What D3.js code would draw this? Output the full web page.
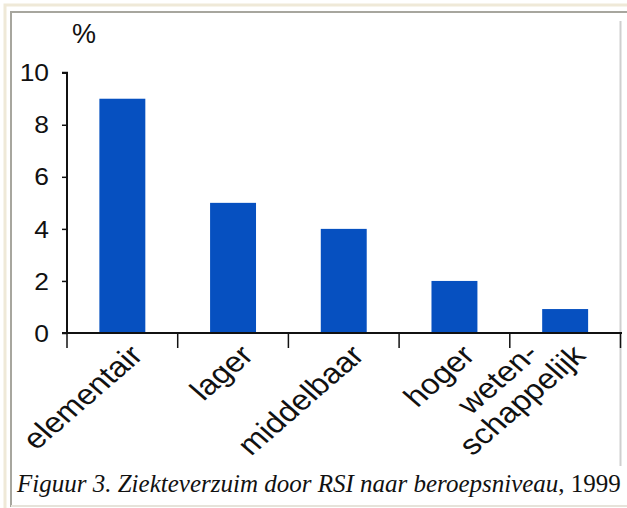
<!DOCTYPE html>
<html>
<head>
<meta charset="utf-8">
<script src="https://cdn.jsdelivr.net/npm/d3@7"></script>
<style>
  html, body { margin: 0; padding: 0; background: #ffffff; }
  svg { display: block; }
</style>
</head>
<body>
<script>
// ---- data ----
const categories = ["elementair", "lager", "middelbaar", "hoger", "weten-\nschappelijk"];
const values = [9, 5, 4, 2, 0.92];
const yTicks = [0, 2, 4, 6, 8, 10];
const yUnit = "%";
const captionItalic = "Figuur 3. Ziekteverzuim door RSI naar beroepsniveau";
const captionPlain = ", 1999";

const W = 627, H = 508;
const SANS = "'Liberation Sans', Arial, sans-serif";
const STRETCH = 1.15;   // the original chart image is stretched horizontally
const svg = d3.select("body").append("svg").attr("width", W).attr("height", H);

// page frame
svg.append("rect").attr("x", 5).attr("y", 5).attr("width", W).attr("height", H)
  .attr("fill", "none").attr("stroke", "#efe9d8").attr("stroke-width", 3);
svg.append("rect").attr("x", 11).attr("y", 12).attr("width", W).attr("height", 494)
  .attr("fill", "#ffffff").attr("stroke", "#a7a69e").attr("stroke-width", 2);
svg.append("line").attr("x1", 11).attr("x2", W).attr("y1", 506).attr("y2", 506)
  .attr("stroke", "#e6e3da").attr("stroke-width", 2);
// right edge of the embedded chart image
svg.append("line").attr("x1", 620.5).attr("x2", 620.5).attr("y1", 21).attr("y2", 466)
  .attr("stroke", "#cfcfcf").attr("stroke-width", 2);

// scales
const left = 67, right = 620.5, y0 = 333, y10 = 72.7;
const x = d3.scaleBand().domain(categories).range([left, right])
  .paddingInner(0.585).paddingOuter(0.2925);
const y = d3.scaleLinear().domain([0, 10]).range([y0, y10]);

// bars
svg.append("g").selectAll("rect").data(values).join("rect")
  .attr("x", (d, i) => x(categories[i]))
  .attr("y", d => y(d))
  .attr("width", x.bandwidth())
  .attr("height", d => y(0) - y(d))
  .attr("fill", "#0650c0");

// y axis
const yAxis = d3.axisLeft(y).tickValues(yTicks).tickSize(5).tickFormat("");
const gy = svg.append("g").attr("transform", `translate(${left},0)`).call(yAxis);
gy.select(".domain").attr("stroke", "#111").attr("stroke-width", 2).attr("d", `M-5,${y10}H0V${y0}`);
gy.selectAll(".tick line").attr("stroke", "#111").attr("stroke-width", 1.5);
svg.append("g").selectAll("text").data(yTicks).join("text")
  .attr("transform", d => `translate(${left - 18},${y(d)}) scale(1.1,1)`)
  .attr("dy", "0.36em").attr("text-anchor", "end")
  .attr("font-family", SANS).attr("font-size", 24).attr("fill", "#111")
  .text(d3.format("d"));

svg.append("text").attr("x", 84).attr("y", 43).attr("text-anchor", "middle")
  .attr("font-family", SANS).attr("font-size", 27).attr("fill", "#111")
  .text(yUnit);

// x axis line and category boundary ticks
svg.append("line").attr("x1", left - 5).attr("x2", right + 1.5).attr("y1", y0).attr("y2", y0)
  .attr("stroke", "#111").attr("stroke-width", 2);
const bounds = categories.map(c => x(c) + x.bandwidth() / 2 - x.step() / 2);
bounds.push(bounds[bounds.length - 1] + x.step());
svg.append("g").selectAll("line").data(bounds).join("line")
  .attr("x1", d => d).attr("x2", d => d).attr("y1", y0).attr("y2", y0 + 15)
  .attr("stroke", "#111").attr("stroke-width", 1.5);

// x labels (rotated, multi-line labels centred line by line)
const FS = 28.5, LH = 30;
const gl = svg.append("g").selectAll("g").data(categories).join("g")
  .attr("transform", c => `translate(${x(c) + x.bandwidth() / 2 + 22},${y0 + 24}) scale(${STRETCH},1) rotate(-45)`);
gl.each(function (c) {
  const g = d3.select(this);
  const lines = c.split("\n");
  const texts = lines.map((s, i) => g.append("text")
    .attr("font-family", SANS).attr("font-size", FS).attr("fill", "#111")
    .attr("y", (i - (lines.length - 1)) * LH)
    .text(s));
  const lens = texts.map(t => t.node().getComputedTextLength());
  const maxLen = d3.max(lens);
  texts.forEach(t => t.attr("text-anchor", "middle").attr("x", -maxLen / 2));
});

// caption, sized to span the frame width (x 17 .. 621)
const capX = 17, capRight = 621;
const cap = svg.append("text").attr("x", capX).attr("y", 492)
  .attr("font-family", "'Liberation Serif', 'Times New Roman', serif").attr("font-size", 20).attr("fill", "#111");
cap.append("tspan").attr("font-style", "italic").text(captionItalic);
cap.append("tspan").text(captionPlain);
const capW = cap.node().getComputedTextLength();
cap.attr("font-size", 20 * (capRight - capX) / capW);
</script>
</body>
</html>
